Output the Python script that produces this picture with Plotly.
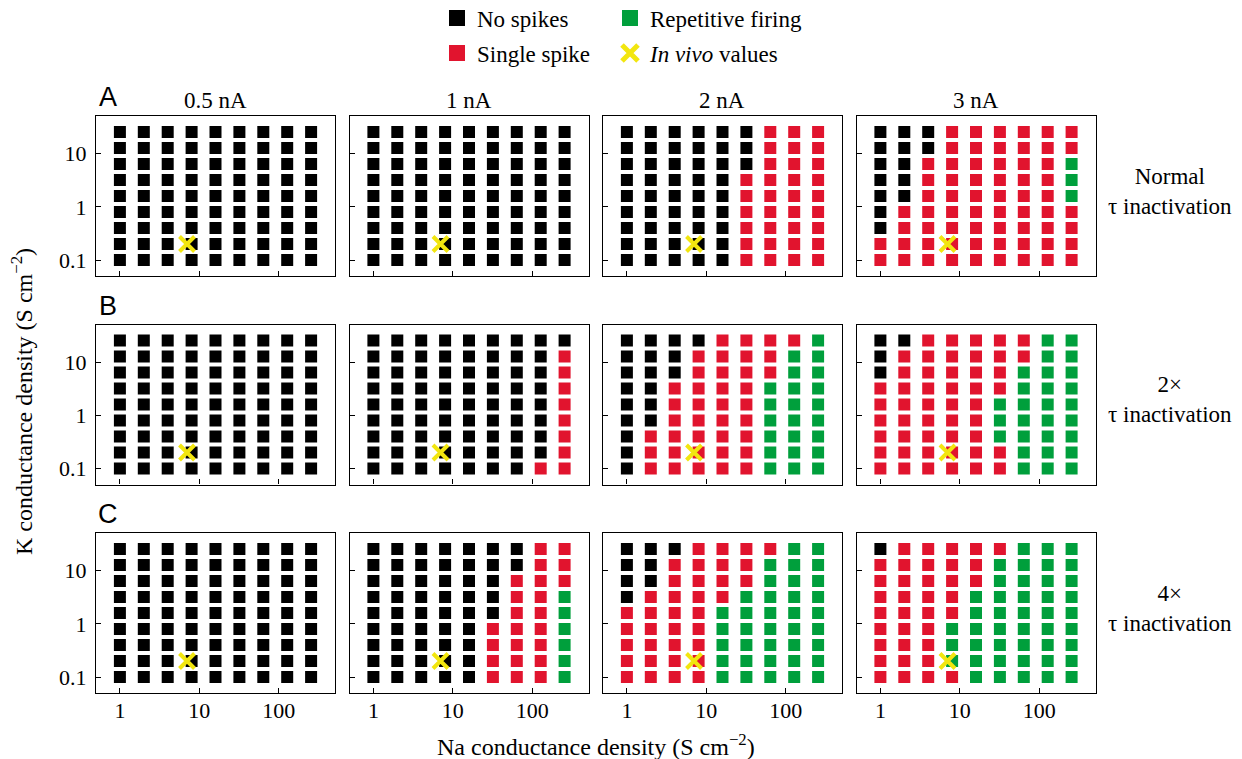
import math
import plotly.graph_objects as go

# ---------------- data ----------------
na_values = [1, 2, 4, 8, 16, 32, 64, 128, 256]           # S cm^-2 (columns)
k_values_top_down = [25.6, 12.8, 6.4, 3.2, 1.6, 0.8, 0.4, 0.2, 0.1]  # S cm^-2 (rows, top -> bottom)
currents = ["0.5 nA", "1 nA", "2 nA", "3 nA"]
conditions = ["Normal<br>τ inactivation", "2×<br>τ inactivation", "4×<br>τ inactivation"]
row_letters = ["A", "B", "C"]
in_vivo_na = [7.0]
in_vivo_k = [0.2]

# outcome codes: N = no spikes, S = single spike, R = repetitive firing
normal_05nA = ["NNNNNNNNN"] * 9
normal_1nA = ["NNNNNNNNN"] * 9
normal_2nA = ["NNNNNNSSS"] * 3 + ["NNNNNSSSS"] * 6
normal_3nA = ["NNNSSSSSS", "NNNSSSSSS", "NNSSSSSSR", "NNSSSSSSR", "NNSSSSSSR",
              "NSSSSSSSS", "NSSSSSSSS", "SSSSSSSSS", "SSSSSSSSS"]

tau2_05nA = ["NNNNNNNNN"] * 9
tau2_1nA = ["NNNNNNNNN"] + ["NNNNNNNNS"] * 7 + ["NNNNNNNSS"]
tau2_2nA = ["NNNNSSSSR", "NNNSSSSRR", "NNNSSSSRR", "NNSSSSRRR", "NNSSSSRRR",
            "NNSSSSRRR", "NSSSSSRRR", "NSSSSSRRR", "NSSSSSRRR"]
tau2_3nA = ["NNSSSSSRR", "NSSSSSSRR", "NSSSSSRRR", "SSSSSSRRR", "SSSSSRRRR",
            "SSSSSRRRR", "SSSSSRRRR", "SSSSSSRRR", "SSSSSSRRR"]

tau4_05nA = ["NNNNNNNNN"] * 9
tau4_1nA = ["NNNNNNNSS", "NNNNNNNSS", "NNNNNNSSS", "NNNNNNSSR", "NNNNNNSSR",
            "NNNNNSSSR", "NNNNNSSSR", "NNNNNSSSR", "NNNNNSSSR"]
tau4_2nA = ["NNNSSSSRR", "NNSSSSRRR", "NNSSSSRRR", "NSSSSRRRR"] + ["SSSSRRRRR"] * 5
tau4_3nA = ["NSSSSSRRR", "SSSSSRRRR", "SSSSSRRRR", "SSSSRRRRR", "SSSSRRRRR",
            "SSSRRRRRR", "SSSRRRRRR", "SSSRRRRRR", "SSSSRRRRR"]

panels = [
    [normal_05nA, normal_1nA, normal_2nA, normal_3nA],
    [tau2_05nA, tau2_1nA, tau2_2nA, tau2_3nA],
    [tau4_05nA, tau4_1nA, tau4_2nA, tau4_3nA],
]

categories = ["N", "S", "R"]
category_colors = {"N": "#000000", "S": "#e1142e", "R": "#009f3c"}
xcolor = "#f2e60f"

# ---------------- layout geometry ----------------
# The page body has an 8 px default margin, so the figure is drawn 8 px smaller
# and all window-pixel positions below are converted accordingly.
WIN_W, WIN_H = 1242, 759
OFF = 8
W, H = WIN_W - OFF, WIN_H - OFF
SERIF = "Liberation Serif, Times New Roman, serif"
SANS = "Liberation Sans, Arial, sans-serif"
panel_w, panel_h = 239, 160
col_x0 = [96 + 253.5 * c for c in range(4)]
row_y0 = [116 + 208.5 * r for r in range(3)]


def px_x(x):
    return (x - OFF) / W


def px_y(y):
    return 1 - (y - OFF) / H


fig = go.Figure()
layout = {}
for r in range(3):
    for c in range(4):
        i = r * 4 + c + 1
        sfx = "" if i == 1 else str(i)
        x0, y0 = col_x0[c], row_y0[r]
        layout["xaxis" + sfx] = dict(
            domain=[px_x(x0), px_x(x0 + panel_w)], anchor="y" + sfx,
            type="log", range=[math.log10(0.5), math.log10(512)],
            tickvals=[1, 10, 100], ticktext=["1", "10", "100"],
            showticklabels=(r == 2), ticks="inside", ticklen=5, tickwidth=1.3,
            tickcolor="black", showline=True, mirror=True, linecolor="black",
            linewidth=1.3, showgrid=False, zeroline=False, automargin=False,
            tickfont=dict(family=SERIF, size=22, color="black"),
            ticklabelstandoff=-3,
        )
        layout["yaxis" + sfx] = dict(
            domain=[px_y(y0 + panel_h), px_y(y0)], anchor="x" + sfx,
            type="log", range=[math.log10(0.05), math.log10(51.2)],
            tickvals=[0.1, 1, 10], ticktext=["0.1", "1", "10"],
            showticklabels=(c == 0), ticks="inside", ticklen=5, tickwidth=1.3,
            tickcolor="black", showline=True, mirror=True, linecolor="black",
            linewidth=1.3, showgrid=False, zeroline=False, automargin=False,
            tickfont=dict(family=SERIF, size=22, color="black"),
            ticklabelstandoff=4,
        )
        grid = panels[r][c]
        for cat in categories:
            xs, ys = [], []
            for ri, row in enumerate(grid):
                for ci, code in enumerate(row):
                    if code == cat:
                        xs.append(na_values[ci])
                        ys.append(k_values_top_down[ri])
            if xs:
                fig.add_trace(go.Scatter(
                    x=xs, y=ys, mode="markers", xaxis="x" + sfx, yaxis="y" + sfx,
                    marker=dict(symbol="square", size=12, color=category_colors[cat],
                                line=dict(width=0)),
                    showlegend=False, hoverinfo="skip"))
        fig.add_trace(go.Scatter(
            x=in_vivo_na, y=in_vivo_k, mode="markers", xaxis="x" + sfx, yaxis="y" + sfx,
            marker=dict(symbol="x-thin", size=15, color=xcolor,
                        line=dict(width=4, color=xcolor)),
            showlegend=False, hoverinfo="skip"))

# ---------------- legend (4 single-entry legends placed in a 2x2 grid) ----------------
legend_items = [
    ("No spikes", "square", category_colors["N"], "legend", 437, 18),
    ("Single spike", "square", category_colors["S"], "legend2", 437, 53),
    ("Repetitive firing", "square", category_colors["R"], "legend3", 610, 18),
    ("<i>In vivo</i> values", "x-thin", xcolor, "legend4", 610, 53),
]
for name, sym, col, leg, lx, ly in legend_items:
    mk = dict(symbol=sym, size=20, color=col)
    if sym == "x-thin":
        mk["line"] = dict(width=5, color=col)
    else:
        mk["line"] = dict(width=0)
    fig.add_trace(go.Scatter(x=[None], y=[None], mode="markers", name=name,
                             marker=mk, legend=leg, showlegend=True))
    layout[leg] = dict(x=px_x(lx), y=px_y(ly), xanchor="left", yanchor="middle",
                       bgcolor="rgba(0,0,0,0)", borderwidth=0,
                       font=dict(family=SERIF, size=23, color="black"),
                       itemsizing="trace")

# ---------------- annotations ----------------
ann = []


def add_text(text, x, y, size, family=SERIF, angle=0):
    ann.append(dict(text=text, x=px_x(x), y=px_y(y), xref="paper", yref="paper",
                    xanchor="center", yanchor="middle", showarrow=False,
                    align="center", textangle=angle,
                    font=dict(family=family, size=size, color="black")))


for c, txt in enumerate(currents):
    add_text(txt, col_x0[c] + panel_w / 2, 100, 23)
for r in range(3):
    add_text(row_letters[r], 108, row_y0[r] - 19, 27, family=SANS)
    add_text(conditions[r], 1170, row_y0[r] + panel_h / 2 - 5, 23)
add_text("Na conductance density (S cm<sup>−2</sup>)", 596, 745, 24)
add_text("K conductance density (S cm<sup>−2</sup>)", 22, 402, 24, angle=-90)

fig.update_layout(
    width=W, height=H,
    margin=dict(l=0, r=0, t=0, b=0, pad=0, autoexpand=False),
    paper_bgcolor="white", plot_bgcolor="white",
    annotations=ann, **layout,
)

fig.write_html("out.html")
